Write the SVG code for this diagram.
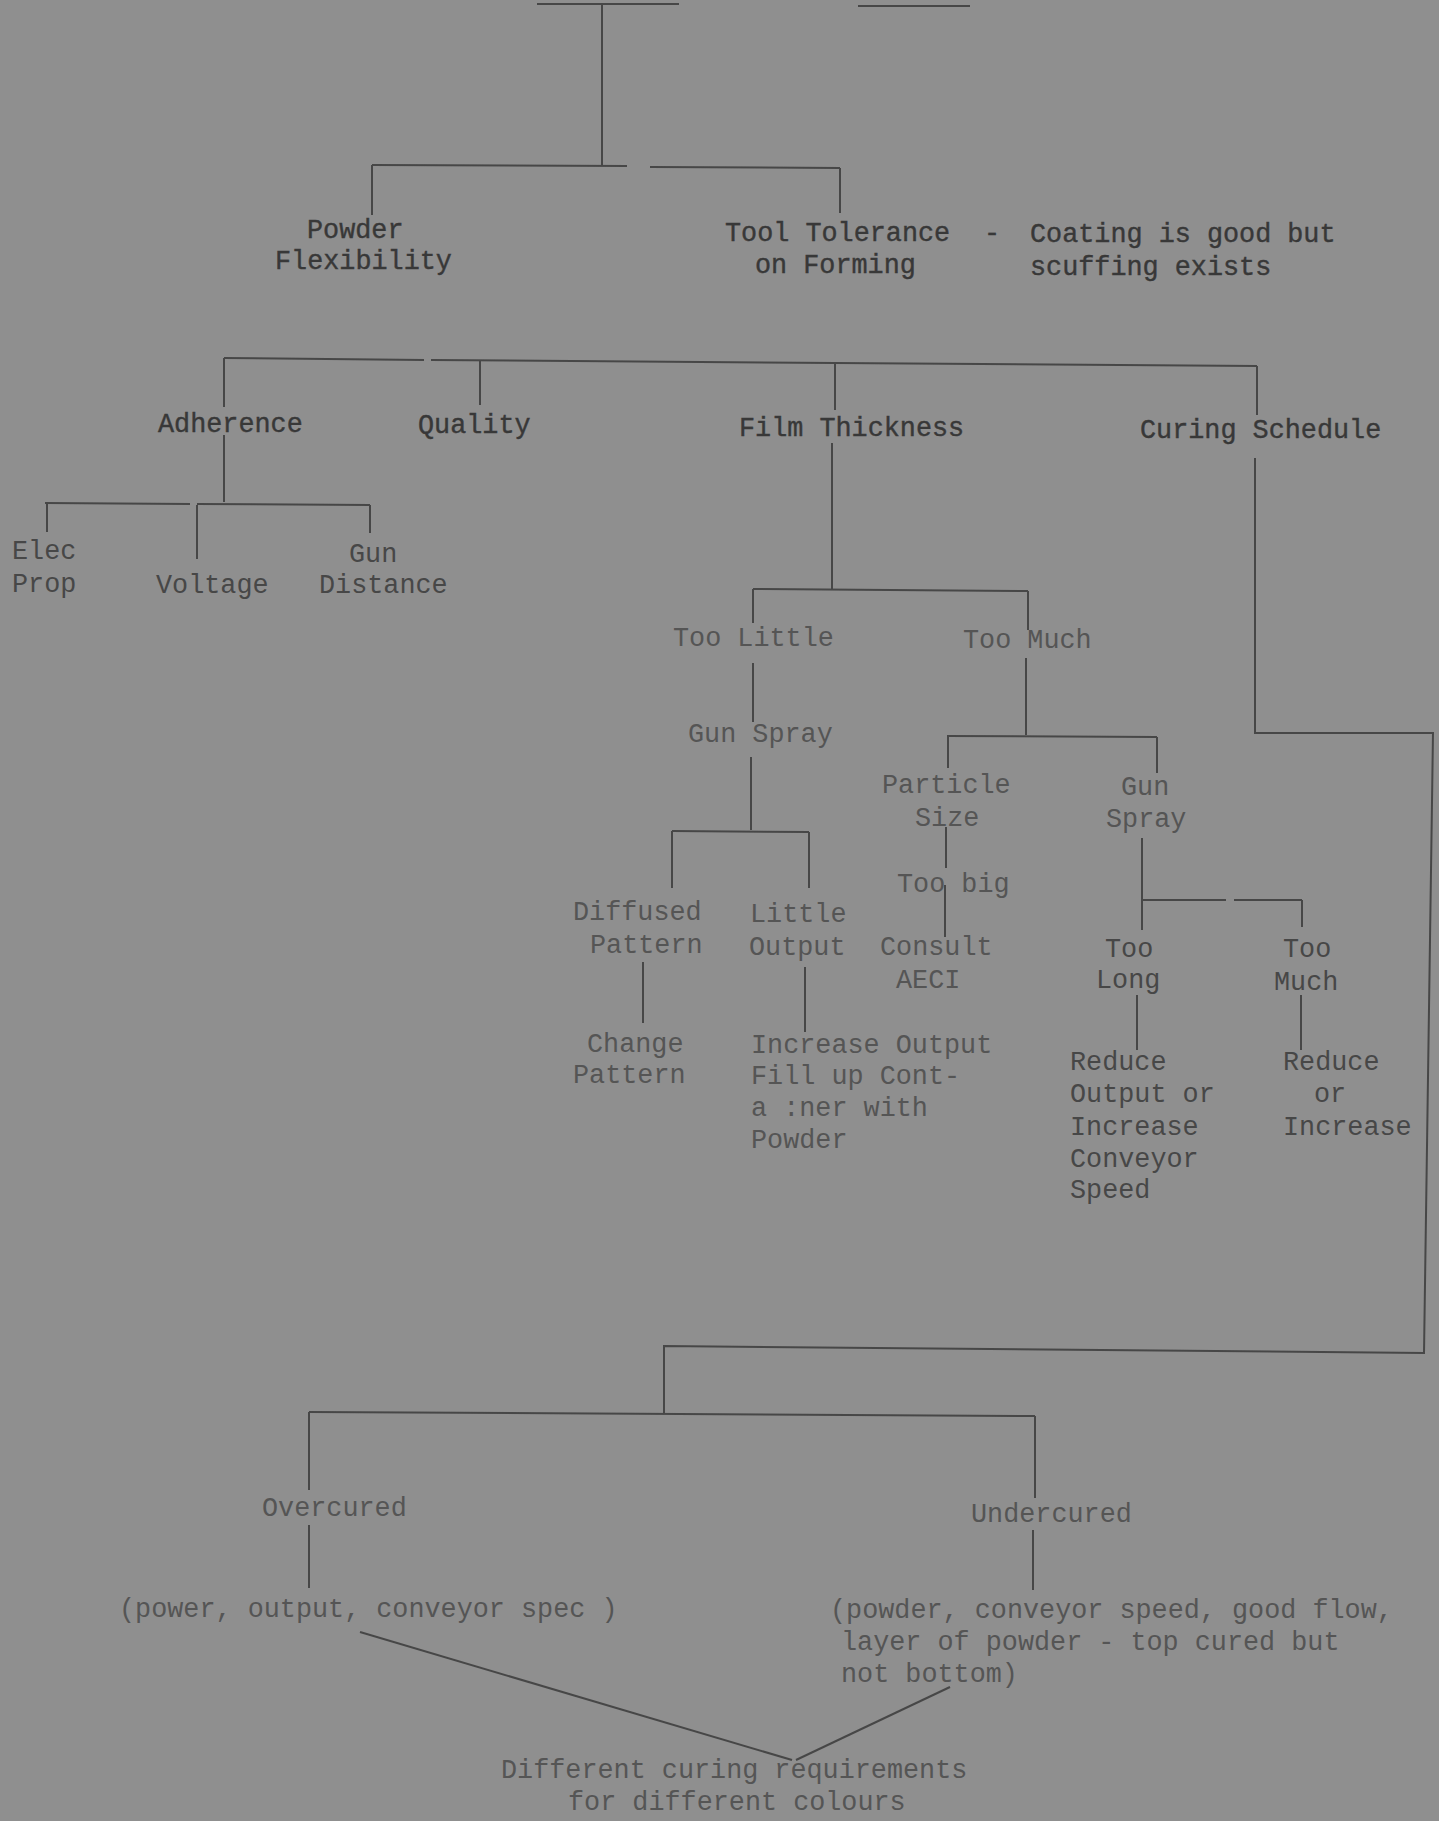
<svg xmlns="http://www.w3.org/2000/svg" width="1439" height="1821" viewBox="0 0 1439 1821">
<style>
text{font-family:"Liberation Mono","Courier New",monospace;font-size:26.8px;fill:#474747}
.d{fill:#383838;stroke:#383838;stroke-width:0.4}
.l{fill:#555555}
#connectors line,#connectors polyline{stroke:#474747;stroke-width:2;fill:none}
</style>
<rect width="1439" height="1821" fill="#8f8f8f"/>
<g id="connectors">
<line x1="537" y1="4" x2="679" y2="4"/>
<line x1="858" y1="6" x2="970" y2="6"/>
<line x1="602" y1="4" x2="602" y2="166"/>
<line x1="372" y1="165" x2="627" y2="166"/>
<line x1="650" y1="167" x2="840" y2="168"/>
<line x1="372" y1="165" x2="372" y2="215"/>
<line x1="840" y1="168" x2="840" y2="213"/>
<line x1="224" y1="358" x2="424" y2="360"/>
<line x1="431" y1="360" x2="1257" y2="366"/>
<line x1="224" y1="358" x2="224" y2="407"/>
<line x1="480" y1="360" x2="480" y2="405"/>
<line x1="835" y1="362" x2="835" y2="410"/>
<line x1="1257" y1="366" x2="1257" y2="415"/>
<line x1="224" y1="435" x2="224" y2="502"/>
<line x1="45" y1="503" x2="190" y2="504"/>
<line x1="197" y1="504" x2="370" y2="505"/>
<line x1="47" y1="503" x2="47" y2="532"/>
<line x1="197" y1="505" x2="197" y2="559"/>
<line x1="370" y1="505" x2="370" y2="533"/>
<line x1="832" y1="443" x2="832" y2="589"/>
<line x1="753" y1="589" x2="1028" y2="591"/>
<line x1="753" y1="589" x2="753" y2="623"/>
<line x1="1028" y1="591" x2="1028" y2="630"/>
<line x1="753" y1="663" x2="753" y2="722"/>
<line x1="751" y1="757" x2="751" y2="830"/>
<line x1="672" y1="831" x2="809" y2="832"/>
<line x1="672" y1="831" x2="672" y2="888"/>
<line x1="809" y1="832" x2="809" y2="888"/>
<line x1="1026" y1="658" x2="1026" y2="735"/>
<line x1="947" y1="736" x2="1157" y2="737"/>
<line x1="948" y1="736" x2="948" y2="768"/>
<line x1="1157" y1="737" x2="1157" y2="773"/>
<line x1="946" y1="827" x2="946" y2="868"/>
<line x1="945" y1="885" x2="945" y2="937"/>
<line x1="1142" y1="838" x2="1142" y2="930"/>
<line x1="1142" y1="900" x2="1226" y2="900"/>
<line x1="1234" y1="900" x2="1302" y2="900"/>
<line x1="1302" y1="900" x2="1302" y2="927"/>
<line x1="643" y1="962" x2="643" y2="1023"/>
<line x1="805" y1="967" x2="805" y2="1032"/>
<line x1="1137" y1="995" x2="1137" y2="1050"/>
<line x1="1301" y1="995" x2="1301" y2="1050"/>
<polyline points="1255,458 1255,733 1433,733 1424,1353 664,1346 664,1413"/>
<line x1="309" y1="1412" x2="1035" y2="1416"/>
<line x1="309" y1="1412" x2="309" y2="1490"/>
<line x1="1035" y1="1416" x2="1035" y2="1498"/>
<line x1="309" y1="1525" x2="309" y2="1588"/>
<line x1="1033" y1="1530" x2="1033" y2="1590"/>
<line x1="360" y1="1632" x2="792" y2="1760"/>
<line x1="950" y1="1687" x2="796" y2="1760"/>
</g>
<g id="powder-flexibility"><text class="d" x="307" y="238">Powder</text><text class="d" x="275" y="269">Flexibility</text></g>
<g id="tool-tolerance"><text class="d" x="725" y="241">Tool Tolerance</text><text class="d" x="755" y="273">on Forming</text></g>
<g id="coating-note"><text class="d" x="984" y="241">-</text><text class="d" x="1030" y="242">Coating is good but</text><text class="d" x="1030" y="275">scuffing exists</text></g>
<g id="adherence"><text class="d" x="158" y="432">Adherence</text></g>
<g id="quality"><text class="d" x="418" y="433">Quality</text></g>
<g id="film-thickness"><text class="d" x="739" y="436">Film Thickness</text></g>
<g id="curing-schedule"><text class="d" x="1140" y="438">Curing Schedule</text></g>
<g id="elec-prop"><text x="12" y="559">Elec</text><text x="12" y="592">Prop</text></g>
<g id="voltage"><text x="156" y="593">Voltage</text></g>
<g id="gun-distance"><text x="349" y="562">Gun</text><text x="319" y="593">Distance</text></g>
<g id="too-little"><text class="l" x="673" y="646">Too Little</text></g>
<g id="too-much"><text class="l" x="963" y="648">Too Much</text></g>
<g id="gun-spray-1"><text class="l" x="688" y="742">Gun Spray</text></g>
<g id="particle-size"><text class="l" x="882" y="793">Particle</text><text class="l" x="915" y="826">Size</text></g>
<g id="gun-spray-2"><text class="l" x="1121" y="795">Gun</text><text class="l" x="1106" y="827">Spray</text></g>
<g id="too-big"><text class="l" x="897" y="892">Too big</text></g>
<g id="consult"><text class="l" x="880" y="955">Consult</text><text class="l" x="896" y="988">AECI</text></g>
<g id="diffused-pattern"><text class="l" x="573" y="920">Diffused</text><text class="l" x="590" y="953">Pattern</text></g>
<g id="little-output"><text class="l" x="750" y="922">Little</text><text class="l" x="749" y="955">Output</text></g>
<g id="change-pattern"><text class="l" x="587" y="1052">Change</text><text class="l" x="573" y="1083">Pattern</text></g>
<g id="increase-output"><text class="l" x="751" y="1053">Increase Output</text><text class="l" x="751" y="1084">Fill up Cont-</text><text class="l" x="751" y="1116">a :ner with</text><text class="l" x="751" y="1148">Powder</text></g>
<g id="too-long"><text x="1105" y="957">Too</text><text x="1096" y="988">Long</text></g>
<g id="too-much-2"><text x="1283" y="957">Too</text><text x="1274" y="990">Much</text></g>
<g id="reduce-output"><text x="1070" y="1070">Reduce</text><text x="1070" y="1102">Output or</text><text x="1070" y="1135">Increase</text><text x="1070" y="1167">Conveyor</text><text x="1070" y="1198">Speed</text></g>
<g id="reduce-or"><text x="1283" y="1070">Reduce</text><text x="1314" y="1102">or</text><text x="1283" y="1135">Increase</text></g>
<g id="overcured"><text class="l" x="262" y="1516">Overcured</text></g>
<g id="undercured"><text class="l" x="971" y="1522">Undercured</text></g>
<g id="overcured-causes"><text class="l" x="119" y="1617">(power, output, conveyor spec )</text></g>
<g id="undercured-causes"><text class="l" x="830" y="1618">(powder, conveyor speed, good flow,</text><text class="l" x="841" y="1650">layer of powder - top cured but</text><text class="l" x="841" y="1682">not bottom)</text></g>
<g id="different-curing"><text class="l" x="501" y="1778">Different curing requirements</text><text class="l" x="568" y="1810">for different colours</text></g>
</svg>
